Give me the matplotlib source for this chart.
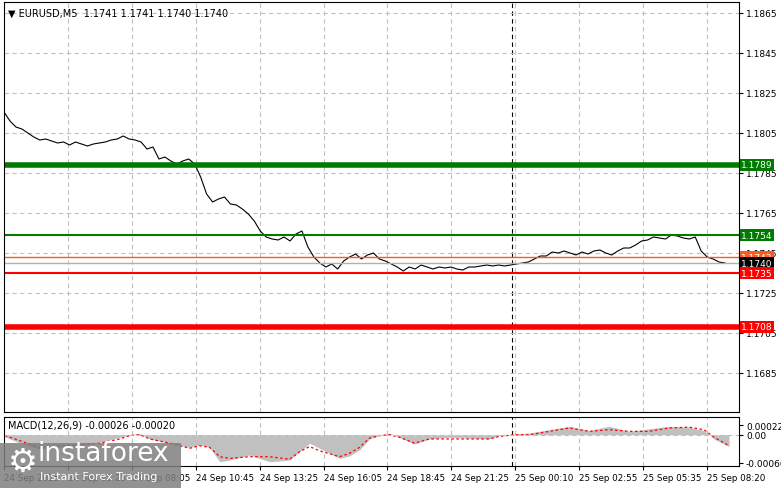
import numpy as np
import matplotlib.pyplot as plt
from matplotlib.patches import Rectangle

# prix de clôture (EURUSD M5)
close = [1.18155, 1.1811, 1.1808, 1.1807, 1.1805, 1.1803, 1.18015, 1.1802, 1.1801, 1.18,
         1.18005, 1.1799, 1.18005, 1.17995, 1.17985, 1.17995, 1.18, 1.18005, 1.18015, 1.1802,
         1.18035, 1.1802, 1.18015, 1.18005, 1.1797, 1.1798, 1.1792, 1.1793, 1.1791, 1.17895,
         1.1791, 1.1792, 1.17895, 1.1783, 1.17745, 1.17705, 1.1772, 1.1773, 1.17695, 1.1769,
         1.1767, 1.17645, 1.1761, 1.1756, 1.1753, 1.1752, 1.17515, 1.1753, 1.1751, 1.17545,
         1.1756, 1.1748, 1.1743, 1.174, 1.1738, 1.17395, 1.1737, 1.1741, 1.1743, 1.17445,
         1.1742, 1.1744, 1.1745, 1.1742, 1.1741, 1.17395, 1.1738, 1.1736, 1.1738, 1.1737,
         1.1739, 1.1738, 1.1737, 1.1738, 1.17375, 1.1738, 1.1737, 1.17365, 1.1738, 1.1738,
         1.17385, 1.1739, 1.17385, 1.1739, 1.17385, 1.1739, 1.17395, 1.174, 1.17405, 1.1742,
         1.17435, 1.17435, 1.17455, 1.1745, 1.1746, 1.1745, 1.1744, 1.17455, 1.17445, 1.1746,
         1.17465, 1.1745, 1.1744, 1.1746, 1.17475, 1.17475, 1.1749, 1.1751, 1.17515, 1.1753,
         1.17525, 1.1752, 1.1754, 1.17535, 1.17525, 1.1752, 1.1753, 1.1746, 1.1743, 1.1742,
         1.17405, 1.174]

macd_pos = [0.5, 8, 18, 28, 38, 48, 58, 63, 68, 73, 83, 93, 98, 103, 108, 113, 123, 133, 143, 148,
            153, 158, 168, 173, 178, 183, 188, 193, 198, 205.5, 213, 223, 233, 243, 248, 255.5,
            263, 273, 283, 293, 303, 313, 323, 333, 343, 350.5, 355.5, 363]
macd_hist = [-0.00005, -0.0002, -0.00034, -0.0003, -0.00026, -0.00018, -0.00006, 0.0, 0.00003, -0.0001,
             -0.0002, -0.0003, -0.00024, -0.0003, -0.00064, -0.0006, -0.00048, -0.00064, -0.0006, -0.0004,
             -0.0002, -0.00032, -0.00056, -0.0005, -0.00036, -0.0001, -0.00002, 0.00004, -0.00006, -0.00022,
             -0.0001, -0.00006, -0.00008, -0.0001, -0.00002, 0.00002, 0.00004, 0.00012, 0.0002, 0.0001,
             0.0002, 0.00008, 0.00014, 0.0002, 0.00018, 0.0001, -0.0001, -0.00028]
macd_signal = [-0.00002, -0.00014, -0.00032, -0.00026, -0.00024, -0.0002, -0.0001, -0.00002, 0.0, -0.0001,
               -0.0002, -0.00032, -0.00026, -0.0003, -0.00052, -0.00056, -0.00052, -0.00052, -0.00058, -0.0004,
               -0.00028, -0.00038, -0.00052, -0.00044, -0.0003, -0.00008, -0.00002, 0.0, -0.00006, -0.0002,
               -0.0001, -0.0001, -0.0001, -0.0001, -0.00004, 0.0, 0.0, 0.00008, 0.00016, 0.00008,
               0.00012, 0.00008, 0.00008, 0.00016, 0.00018, 0.00012, -0.00006, -0.00026]

levels = [1.1789, 1.1754, 1.1743, 1.1740, 1.1735, 1.1708]
level_colors = ['#007a00', '#007a00', '#ff5a1e', '#b0b0b0', '#ff0000', '#ff0000']
level_widths = [4, 1.5, 1, 1, 1.5, 4]
label_bg = ['#007a00', '#007a00', '#ff5a1e', '#000000', '#ff0000', '#ff0000']

tick_pos = [0, 32, 64, 96, 128, 160, 192, 224, 256, 288, 320, 352]
tick_labels = ['24 Sep 2025', '24 Sep 05:25', '24 Sep 08:05', '24 Sep 10:45', '24 Sep 13:25',
               '24 Sep 16:05', '24 Sep 18:45', '24 Sep 21:25', '25 Sep 00:10', '25 Sep 02:55',
               '25 Sep 05:35', '25 Sep 08:20']
price_ticks = [1.1865, 1.1845, 1.1825, 1.1805, 1.1785, 1.1765, 1.1745, 1.1725, 1.1705, 1.1685]

W, H = 781, 489
fig = plt.figure(figsize=(W / 100, H / 100), dpi=100)
ax = fig.add_axes([4 / W, 1 - 413 / H, 735 / W, 410 / H])
ax2 = fig.add_axes([4 / W, 1 - 467 / H, 735 / W, 49 / H])

x = np.linspace(0, 361, len(close))
xmax = 368

for a in (ax, ax2):
    a.set_xlim(0, xmax)
    for t in tick_pos[1:]:
        a.axvline(t, color='#c0c0c0', ls=(0, (4, 3)), lw=0.8, zorder=0)
    a.axvline(254.5, color='black', ls=(0, (4, 3)), lw=0.8, zorder=0)
    a.yaxis.tick_right()
    a.tick_params(axis='both', labelsize=6.5, length=3, pad=2, direction='out')
    for s in a.spines.values():
        s.set_linewidth(0.8)

ax.set_ylim(1.16655, 1.18705)
for p in price_ticks:
    ax.axhline(p, color='#c0c0c0', ls=(0, (4, 3)), lw=0.8, zorder=0)
ax.set_yticks(price_ticks)
ax.set_yticklabels(['%.4f' % p for p in price_ticks])
ax.set_xticks([])
ax.plot(x, close, color='black', lw=0.8)

for lv, c, w, bg in zip(levels, level_colors, level_widths, label_bg):
    ax.axhline(lv, color=c, lw=w)
    ax.text(1.003, lv, '%.4f' % lv, transform=ax.get_yaxis_transform(), va='center', ha='left',
            fontsize=6.5, color='white', clip_on=False, zorder=5,
            bbox=dict(boxstyle='square,pad=0.15', fc=bg, ec='none'))

ax.text(0.005, 0.985, '\u25bc EURUSD,M5  1.1741 1.1741 1.1740 1.1740', transform=ax.transAxes,
        fontsize=7, va='top')

ax2.set_ylim(-0.00074, 0.00042)
ax2.fill_between(macd_pos, macd_hist, 0, color='#c0c0c0', lw=0)
ax2.plot(macd_pos, macd_signal, color='red', ls=(0, (2, 2)), lw=0.9)
ax2.axhline(0, color='#c0c0c0', ls=(0, (4, 3)), lw=0.8)
ax2.set_yticks([0.00022, 0.0, -0.00066])
ax2.set_yticklabels(['0.00022', '0.00', '-0.00066'])
ax2.set_xticks(tick_pos)
ax2.set_xticklabels(tick_labels, ha='left', fontsize=6.3)
ax2.text(0.005, 0.95, 'MACD(12,26,9) -0.00026 -0.00020', transform=ax2.transAxes, fontsize=7, va='top')

# logo instaforex
fig.patches.append(Rectangle((0, 0), 181 / W, 45 / H, transform=fig.transFigure,
                             fc='#7f7f7f', alpha=0.85, ec='none', zorder=10))
fig.text(38 / W, 22 / H, 'instaforex', fontsize=19, color='white', zorder=11, va='bottom')
fig.text(40 / W, 7 / H, 'Instant Forex Trading', fontsize=8, color='white', zorder=11, va='bottom')
fig.text(8 / W, 10 / H, '\u2699', fontsize=24, color='white', zorder=11, va='bottom')

fig.savefig('out.png', dpi=100)
